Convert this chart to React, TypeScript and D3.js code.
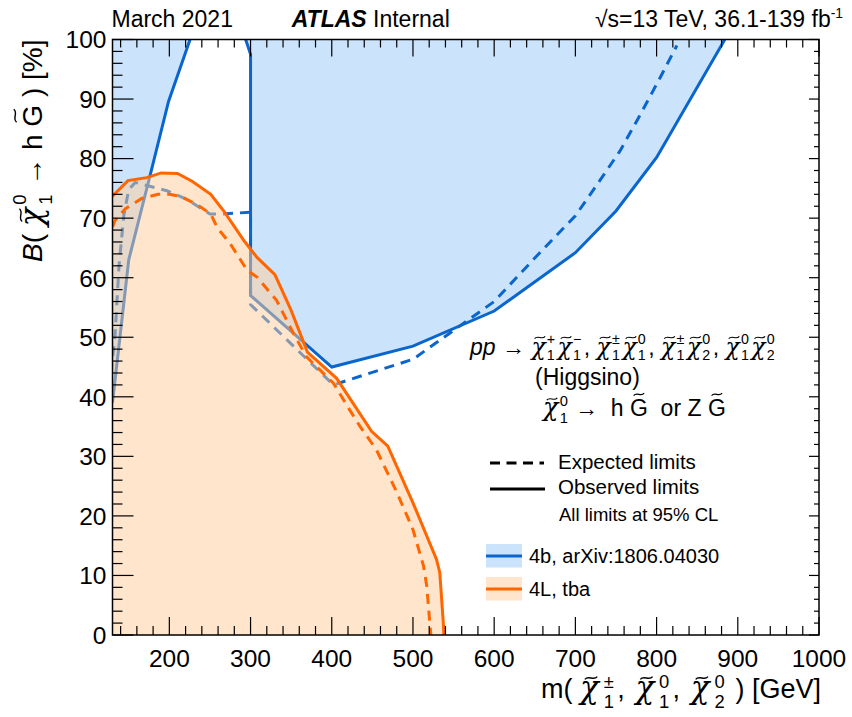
import React, { useEffect, useRef } from 'react';
import * as d3 from 'd3';

// ---------------- data ----------------
const X_TICKS = [200, 300, 400, 500, 600, 700, 800, 900, 1000];
const X_TICK_LABELS = ['200', '300', '400', '500', '600', '700', '800', '900', '1000'];
const Y_TICKS = [0, 10, 20, 30, 40, 50, 60, 70, 80, 90, 100];
const Y_TICK_LABELS = ['0', '10', '20', '30', '40', '50', '60', '70', '80', '90', '100'];

// 4b observed limit, left branch
const B4_OBS_LEFT_X = [130, 150, 176, 199, 225.5];
const B4_OBS_LEFT_Y = [39, 63, 77, 89.6, 100];
// 4b observed limit, right branch
const B4_OBS_RIGHT_X = [294, 300, 300, 400, 500, 600, 700, 750, 800, 884];
const B4_OBS_RIGHT_Y = [100, 97.5, 57, 45, 48.5, 54.4, 64.2, 71.2, 80.2, 100];
// 4b expected limit
const B4_EXP_X = [128, 133, 138, 144, 150, 158, 197, 221, 250, 266, 300, 300, 402, 500, 600, 650, 700, 730, 755, 780, 804, 825];
const B4_EXP_Y = [44, 50, 62, 70.5, 74.8, 76, 74.6, 73.2, 70.7, 70.7, 71, 55.5, 42, 46.3, 56, 63.3, 70.4, 76.3, 81.3, 87.4, 93.5, 99];

// 4L observed limit
const L4_OBS_X = [130, 149, 172, 190, 210, 228, 251, 268, 292, 308, 330, 350, 370, 406, 449, 469, 500, 529, 533, 537.6, 538];
const L4_OBS_Y = [73.7, 76.3, 76.8, 77.6, 77.5, 76.2, 74, 71, 66.2, 63.4, 60.5, 54.5, 47.5, 43.1, 34.2, 31.7, 22.2, 12.7, 10.5, 1.6, 0];
// 4L expected limit
const L4_EXP_X = [130, 133, 146, 166, 186, 200, 215, 235, 251, 259, 275, 296, 308, 332, 353, 369, 402, 422, 435, 455, 480, 500, 513, 517, 521, 522];
const L4_EXP_Y = [68.5, 69.6, 71.6, 73.3, 74, 74, 73.6, 72.2, 70.7, 68.4, 65.7, 61.2, 60.1, 56.2, 50.6, 46.7, 42.3, 37.8, 35, 31.1, 24, 17.7, 11.6, 8.2, 1.6, 0];

const LEGEND_LABELS = ['4b, arXiv:1806.04030', '4L, tba'];

// ---------------- style ----------------
const FONT = "'Liberation Sans', Arial, Helvetica, sans-serif";
const CHI_FONT = "'DejaVu Serif', serif";
const BLUE = '#0a66cc';
const BLUE_FILL = '#cce4fb';
const ORANGE = '#ff6600';
const ORANGE_FILL = 'rgba(255,203,153,0.5)';

type Tok =
  | { k: 't'; s: string; it?: boolean; b?: boolean }
  | { k: 'sp'; w: number }
  | { k: 'chi'; sup: string; sub: string }
  | { k: 'G' }
  | { k: 'sup'; s: string };

interface MOpts {
  supShift?: number;
  subShift?: number;
  sfr?: number;
  chiScale?: number;
  gap?: number;
  after?: number;
}

function mathText(
  parent: any,
  toks: Tok[],
  fs: number,
  x: number,
  y: number,
  anchor: 'start' | 'end' | 'middle',
  rotate = false,
  o: MOpts = {}
) {
  const supShift = o.supShift ?? 0.42;
  const subShift = o.subShift ?? 0.28;
  const sfr = o.sfr ?? 0.62;
  const chiScale = o.chiScale ?? 1.1;
  const gap = o.gap ?? 0.06;
  const after = o.after ?? 0.03;
  const g = parent.append('g');
  const inner = g.append('g');
  let cx = 0;
  const sfs = fs * sfr;
  const addText = (s: string, x0: number, y0: number, size: number, it?: boolean, b?: boolean, fam = FONT) => {
    const t = inner
      .append('text')
      .attr('x', x0)
      .attr('y', y0)
      .attr('font-size', size)
      .attr('font-family', fam)
      .attr('fill', '#000')
      .style('white-space', 'pre')
      .text(s);
    if (it) t.attr('font-style', 'italic');
    if (b) t.attr('font-weight', 'bold');
    return (t.node() as SVGTextElement).getComputedTextLength();
  };
  const tilde = (cm: number, yc: number, w: number) => {
    const a = fs * 0.05;
    const x0 = cm - w / 2;
    inner
      .append('path')
      .attr('d', `M${x0},${yc + a} C${x0 + w * 0.3},${yc - 2.4 * a} ${x0 + w * 0.7},${yc + 2.4 * a} ${x0 + w},${yc - a}`)
      .attr('fill', 'none')
      .attr('stroke', '#000')
      .attr('stroke-width', Math.max(1, fs * 0.05));
  };
  for (const tk of toks) {
    if (tk.k === 't') cx += addText(tk.s, cx, 0, fs, tk.it, tk.b);
    else if (tk.k === 'sp') cx += tk.w * fs;
    else if (tk.k === 'sup') cx += addText(tk.s, cx, -fs * 0.4, fs * 0.6);
    else if (tk.k === 'chi') {
      const w = addText('χ', cx, 0, fs * chiScale, true, false, CHI_FONT);
      tilde(cx + w / 2 + fs * 0.06, -fs * 0.74, fs * 0.46);
      const sx = cx + w + fs * gap;
      const w1 = tk.sup ? addText(tk.sup, sx, -fs * supShift, sfs) : 0;
      const w2 = tk.sub ? addText(tk.sub, sx, fs * subShift, sfs) : 0;
      cx = sx + Math.max(w1, w2) + fs * after;
    } else if (tk.k === 'G') {
      const w = addText('G', cx, 0, fs);
      tilde(cx + w / 2, -fs * 0.94, fs * 0.46);
      cx += w;
    }
  }
  const off = anchor === 'end' ? -cx : anchor === 'middle' ? -cx / 2 : 0;
  inner.attr('transform', `translate(${off},0)`);
  g.attr('transform', `translate(${x},${y})` + (rotate ? ' rotate(-90)' : ''));
  return cx;
}

export default function App() {
  const ref = useRef<SVGSVGElement>(null);

  useEffect(() => {
    const svg = d3.select(ref.current as SVGSVGElement);
    svg.selectAll('*').remove();
    const L = 112.5, R = 819, T = 39.5, B = 635;
    const x = d3.scaleLinear().domain([130, 1000]).range([L, R]);
    const y = d3.scaleLinear().domain([0, 100]).range([B, T]);

    svg.append('rect').attr('width', 852).attr('height', 717).attr('fill', '#fff');

    svg
      .append('defs')
      .append('clipPath')
      .attr('id', 'plotclip')
      .append('rect')
      .attr('x', L)
      .attr('y', T)
      .attr('width', R - L)
      .attr('height', B - T);
    const plot = svg.append('g').attr('clip-path', 'url(#plotclip)');

    const zip = (xs: number[], ys: number[]) => xs.map((v, i) => [v, ys[i]] as [number, number]);
    const line = d3
      .line<[number, number]>()
      .x((d) => x(d[0]))
      .y((d) => y(d[1]));

    // 4b fills
    plot
      .append('path')
      .attr('d', line(zip(B4_OBS_LEFT_X, B4_OBS_LEFT_Y).concat([[130, 100]])) + 'Z')
      .attr('fill', BLUE_FILL);
    plot
      .append('path')
      .attr('d', line(zip(B4_OBS_RIGHT_X, B4_OBS_RIGHT_Y)) + 'Z')
      .attr('fill', BLUE_FILL);
    // 4b lines
    plot
      .append('path')
      .attr('d', line(zip(B4_EXP_X, B4_EXP_Y)))
      .attr('fill', 'none')
      .attr('stroke', BLUE)
      .attr('stroke-width', 3)
      .attr('stroke-dasharray', '10 7');
    plot
      .append('path')
      .attr('d', line(zip(B4_OBS_LEFT_X, B4_OBS_LEFT_Y)))
      .attr('fill', 'none')
      .attr('stroke', BLUE)
      .attr('stroke-width', 3);
    plot
      .append('path')
      .attr('d', line(zip(B4_OBS_RIGHT_X, B4_OBS_RIGHT_Y)))
      .attr('fill', 'none')
      .attr('stroke', BLUE)
      .attr('stroke-width', 3);

    // 4L fill
    plot
      .append('path')
      .attr('d', line(zip(L4_OBS_X, L4_OBS_Y).concat([[130, 0]])) + 'Z')
      .attr('fill', ORANGE_FILL);
    plot
      .append('path')
      .attr('d', line(zip(L4_EXP_X, L4_EXP_Y)))
      .attr('fill', 'none')
      .attr('stroke', ORANGE)
      .attr('stroke-width', 3)
      .attr('stroke-dasharray', '10 7');
    plot
      .append('path')
      .attr('d', line(zip(L4_OBS_X, L4_OBS_Y)))
      .attr('fill', 'none')
      .attr('stroke', ORANGE)
      .attr('stroke-width', 3);

    // ticks
    const ax = svg.append('g').attr('stroke', '#000').attr('stroke-width', 1.2);
    const xMinor = d3.range(140, 1001, 20);
    xMinor.forEach((v) => {
      const major = v % 100 === 0;
      const px = x(v);
      ax.append('line').attr('x1', px).attr('x2', px).attr('y1', B).attr('y2', B - (major ? 18 : 9));
      ax.append('line').attr('x1', px).attr('x2', px).attr('y1', T).attr('y2', T + (major ? 17 : 8));
    });
    const yMinor = d3.range(0, 101, 2);
    yMinor.forEach((v) => {
      const major = v % 10 === 0;
      const py = y(v);
      ax.append('line').attr('x1', L).attr('x2', L + (major ? 21 : 10)).attr('y1', py).attr('y2', py);
      ax.append('line').attr('x1', R).attr('x2', R - (major ? 10 : 5)).attr('y1', py).attr('y2', py);
    });
    // frame
    svg
      .append('rect')
      .attr('x', L)
      .attr('y', T)
      .attr('width', R - L)
      .attr('height', B - T)
      .attr('fill', 'none')
      .attr('stroke', '#000')
      .attr('stroke-width', 1.5);

    // tick labels
    const lab = svg.append('g').attr('font-family', FONT).attr('font-size', 24.5).attr('fill', '#000');
    X_TICKS.forEach((v, i) => {
      lab.append('text').attr('x', x(v)).attr('y', B + 31.5).attr('text-anchor', 'middle').text(X_TICK_LABELS[i]);
    });
    Y_TICKS.forEach((v, i) => {
      lab.append('text').attr('x', 106.5).attr('y', y(v) + 8.8).attr('text-anchor', 'end').text(Y_TICK_LABELS[i]);
    });

    // axis titles
    mathText(
      svg,
      [
        { k: 't', s: 'm( ' },
        { k: 'chi', sup: '±', sub: '1' },
        { k: 't', s: ', ' },
        { k: 'sp', w: 0.12 },
        { k: 'chi', sup: '0', sub: '1' },
        { k: 't', s: ', ' },
        { k: 'sp', w: 0.12 },
        { k: 'chi', sup: '0', sub: '2' },
        { k: 't', s: ' ) [GeV]' },
      ],
      27,
      R + 2,
      698,
      'end',
      false,
      { supShift: 0.36, subShift: 0.36, sfr: 0.68, chiScale: 1.15, gap: 0.18, after: 0.12 }
    );
    mathText(
      svg,
      [
        { k: 't', s: 'B', it: true },
        { k: 't', s: '( ' },
        { k: 'chi', sup: '0', sub: '1' },
        { k: 't', s: ' → h ' },
        { k: 'G' },
        { k: 't', s: ' ) [%]' },
      ],
      28,
      41.5,
      T,
      'end',
      true,
      { supShift: 0.55, subShift: 0.36, sfr: 0.66, chiScale: 1.1, gap: 0.1 }
    );

    // header
    const hdr = svg.append('g').attr('font-family', FONT).attr('font-size', 23).attr('fill', '#000');
    hdr.append('text').attr('x', 111.5).attr('y', 26.7).text('March 2021');
    const atl = hdr.append('text').attr('x', 291.7).attr('y', 26.7);
    atl.append('tspan').attr('font-weight', 'bold').attr('font-style', 'italic').text('ATLAS');
    atl.append('tspan').text(' Internal');
    mathText(
      svg,
      [
        { k: 't', s: '√s=13 TeV, 36.1-139 fb' },
        { k: 'sup', s: '-1' },
      ],
      23,
      843,
      26.7,
      'end'
    );

    // process text
    mathText(
      svg,
      [
        { k: 't', s: 'pp', it: true },
        { k: 't', s: ' → ' },
        { k: 'chi', sup: '+', sub: '1' },
        { k: 'chi', sup: '−', sub: '1' },
        { k: 't', s: ', ' },
        { k: 'chi', sup: '±', sub: '1' },
        { k: 'chi', sup: '0', sub: '1' },
        { k: 't', s: ', ' },
        { k: 'chi', sup: '±', sub: '1' },
        { k: 'chi', sup: '0', sub: '2' },
        { k: 't', s: ', ' },
        { k: 'chi', sup: '0', sub: '1' },
        { k: 'chi', sup: '0', sub: '2' },
      ],
      23,
      470,
      354.5,
      'start',
      false,
      { supShift: 0.45, subShift: 0.26, sfr: 0.62, chiScale: 1.02, gap: 0.05, after: 0.11 }
    );
    svg
      .append('text')
      .attr('x', 535)
      .attr('y', 385)
      .attr('font-family', FONT)
      .attr('font-size', 23)
      .text('(Higgsino)');
    mathText(
      svg,
      [
        { k: 'chi', sup: '0', sub: '1' },
        { k: 't', s: ' →  h ' },
        { k: 'G' },
        { k: 't', s: '  or Z ' },
        { k: 'G' },
      ],
      23,
      543,
      416,
      'start',
      false,
      { supShift: 0.45, subShift: 0.3, sfr: 0.64, chiScale: 1.1, gap: 0.06 }
    );

    // line-style legend
    const lg = svg.append('g');
    lg.append('line').attr('x1', 490).attr('x2', 544).attr('y1', 463).attr('y2', 463)
      .attr('stroke', '#000').attr('stroke-width', 3).attr('stroke-dasharray', '10 6.5');
    lg.append('line').attr('x1', 490).attr('x2', 545).attr('y1', 489).attr('y2', 489)
      .attr('stroke', '#000').attr('stroke-width', 3);
    const lt = lg.append('g').attr('font-family', FONT).attr('fill', '#000');
    lt.append('text').attr('x', 558).attr('y', 469).attr('font-size', 20.5).text('Expected limits');
    lt.append('text').attr('x', 558).attr('y', 494).attr('font-size', 20.5).text('Observed limits');
    lt.append('text').attr('x', 559).attr('y', 521).attr('font-size', 18.5).text('All limits at 95% CL');

    // analysis legend
    const entries = [
      { fill: BLUE_FILL, stroke: BLUE, y0: 544 },
      { fill: '#ffe5cc', stroke: ORANGE, y0: 577 },
    ];
    entries.forEach((e, i) => {
      lg.append('rect').attr('x', 486).attr('y', e.y0).attr('width', 36).attr('height', 23.5).attr('fill', e.fill);
      lg.append('line').attr('x1', 486).attr('x2', 522).attr('y1', e.y0 + 12).attr('y2', e.y0 + 12)
        .attr('stroke', e.stroke).attr('stroke-width', 3);
      lt.append('text').attr('x', 529).attr('y', e.y0 + 19).attr('font-size', 20).text(LEGEND_LABELS[i]);
    });
  }, []);

  return (
    <svg
      ref={ref}
      width={852}
      height={717}
      style={{ position: 'absolute', left: 0, top: 0, display: 'block' }}
    />
  );
}
